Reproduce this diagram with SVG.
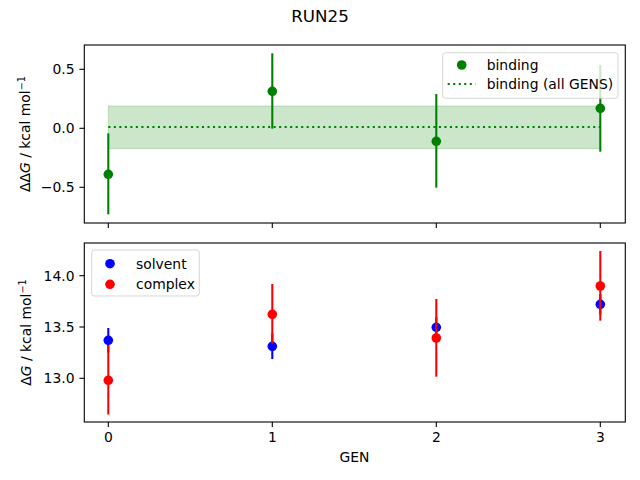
<svg xmlns="http://www.w3.org/2000/svg" width="640" height="480" viewBox="0 0 640 480">
<style>
text{font-family:"DejaVu Sans",sans-serif;fill:#000}
.tk{font-size:13.9px}
.lg{font-size:13.9px}
.spine{fill:none;stroke:#000;stroke-width:1.1}
.tick{stroke:#000;stroke-width:1.1}
.eg{stroke:#008000;stroke-width:2.08}
.eb{stroke:#0000ff;stroke-width:2.08}
.er{stroke:#ff0000;stroke-width:2.08}
.frame{fill:#fff;fill-opacity:0.8;stroke:#ccc;stroke-opacity:0.8;stroke-width:1}
</style>
<rect width="640" height="480" fill="#fff"/>
<text x="320" y="22" font-size="16.7" text-anchor="middle">RUN25</text>

<g id="top-axes">
<rect x="108.3" y="106" width="492" height="42.7" fill="#008000" fill-opacity="0.2" stroke="#008000" stroke-opacity="0.2" stroke-width="1"/>
<line x1="108.3" y1="127" x2="600.3" y2="127" stroke="#008000" stroke-width="2.08" stroke-dasharray="2.08 3.43"/>
<g id="binding">
<line class="eg" x1="108.3" y1="133.3" x2="108.3" y2="214.3"/>
<line class="eg" x1="272.3" y1="53.3" x2="272.3" y2="128.7"/>
<line class="eg" x1="436.3" y1="94" x2="436.3" y2="187.7"/>
<line class="eg" x1="600.3" y1="65" x2="600.3" y2="151.7"/>
<circle cx="108.3" cy="174.3" r="4.8" fill="#008000"/>
<circle cx="272.3" cy="91.3" r="4.8" fill="#008000"/>
<circle cx="436.3" cy="141.3" r="4.8" fill="#008000"/>
<circle cx="600.3" cy="108.3" r="4.8" fill="#008000"/>
</g>
<rect class="spine" x="84.3" y="45" width="541" height="178"/>
<g class="tick">
<line x1="108.3" y1="223" x2="108.3" y2="227.9"/>
<line x1="272.3" y1="223" x2="272.3" y2="227.9"/>
<line x1="436.3" y1="223" x2="436.3" y2="227.9"/>
<line x1="600.3" y1="223" x2="600.3" y2="227.9"/>
<line x1="84.3" y1="69.3" x2="79.4" y2="69.3"/>
<line x1="84.3" y1="128.3" x2="79.4" y2="128.3"/>
<line x1="84.3" y1="187.3" x2="79.4" y2="187.3"/>
</g>
<g class="tk" text-anchor="end">
<text x="74.5" y="74.3">0.5</text>
<text x="74.5" y="133.3">0.0</text>
<text x="74.5" y="192.3">−0.5</text>
</g>
<text transform="translate(30,134) rotate(-90)" font-size="13.9" text-anchor="middle">ΔΔ<tspan font-style="italic">G</tspan> / kcal mol<tspan font-size="9.7" dy="-5.5">−1</tspan></text>
<g id="legend-top">
<rect class="frame" x="442.7" y="52.7" width="175.3" height="45.6" rx="2.8"/>
<circle cx="461.7" cy="65" r="4.8" fill="#008000"/>
<text class="lg" x="486.7" y="69.6">binding</text>
<line x1="447.7" y1="84" x2="475.5" y2="84" stroke="#008000" stroke-width="2.08" stroke-dasharray="2.08 3.43"/>
<text class="lg" x="486.7" y="89">binding (all GENS)</text>
</g>
</g>

<g id="bottom-axes">
<g id="solvent">
<line class="eb" x1="108.3" y1="328" x2="108.3" y2="352.6"/>
<line class="eb" x1="272.3" y1="333.6" x2="272.3" y2="359"/>
<line class="eb" x1="436.3" y1="317.3" x2="436.3" y2="337.3"/>
<line class="eb" x1="600.3" y1="294.3" x2="600.3" y2="314.3"/>
<circle cx="108.3" cy="340.3" r="4.8" fill="#0000ff"/>
<circle cx="272.3" cy="346.3" r="4.8" fill="#0000ff"/>
<circle cx="436.3" cy="327.3" r="4.8" fill="#0000ff"/>
<circle cx="600.3" cy="304.3" r="4.8" fill="#0000ff"/>
</g>
<g id="complex">
<line class="er" x1="108.3" y1="345.5" x2="108.3" y2="414.5"/>
<line class="er" x1="272.3" y1="284" x2="272.3" y2="343.7"/>
<line class="er" x1="436.3" y1="299" x2="436.3" y2="376.7"/>
<line class="er" x1="600.3" y1="251" x2="600.3" y2="320.7"/>
<circle cx="108.3" cy="380.3" r="4.8" fill="#ff0000"/>
<circle cx="272.3" cy="314.3" r="4.8" fill="#ff0000"/>
<circle cx="436.3" cy="338" r="4.8" fill="#ff0000"/>
<circle cx="600.3" cy="286" r="4.8" fill="#ff0000"/>
</g>
<rect class="spine" x="84.3" y="243" width="541" height="179"/>
<g class="tick">
<line x1="108.3" y1="422" x2="108.3" y2="426.9"/>
<line x1="272.3" y1="422" x2="272.3" y2="426.9"/>
<line x1="436.3" y1="422" x2="436.3" y2="426.9"/>
<line x1="600.3" y1="422" x2="600.3" y2="426.9"/>
<line x1="84.3" y1="275.7" x2="79.4" y2="275.7"/>
<line x1="84.3" y1="327" x2="79.4" y2="327"/>
<line x1="84.3" y1="378.3" x2="79.4" y2="378.3"/>
</g>
<g class="tk" text-anchor="end">
<text x="74.5" y="280.7">14.0</text>
<text x="74.5" y="332">13.5</text>
<text x="74.5" y="383.3">13.0</text>
</g>
<g class="tk" text-anchor="middle">
<text x="108.3" y="441.8">0</text>
<text x="272.3" y="441.8">1</text>
<text x="436.3" y="441.8">2</text>
<text x="600.3" y="441.8">3</text>
</g>
<text x="354.5" y="461.5" font-size="13.9" text-anchor="middle">GEN</text>
<text transform="translate(31,332.5) rotate(-90)" font-size="13.9" text-anchor="middle">Δ<tspan font-style="italic">G</tspan> / kcal mol<tspan font-size="9.7" dy="-5.5">−1</tspan></text>
<g id="legend-bottom">
<rect class="frame" x="91.7" y="250" width="107.6" height="46" rx="2.8"/>
<circle cx="110" cy="263.7" r="4.8" fill="#0000ff"/>
<text class="lg" x="136" y="268.5">solvent</text>
<circle cx="110" cy="284.3" r="4.8" fill="#ff0000"/>
<text class="lg" x="136" y="289">complex</text>
</g>
</g>
</svg>
